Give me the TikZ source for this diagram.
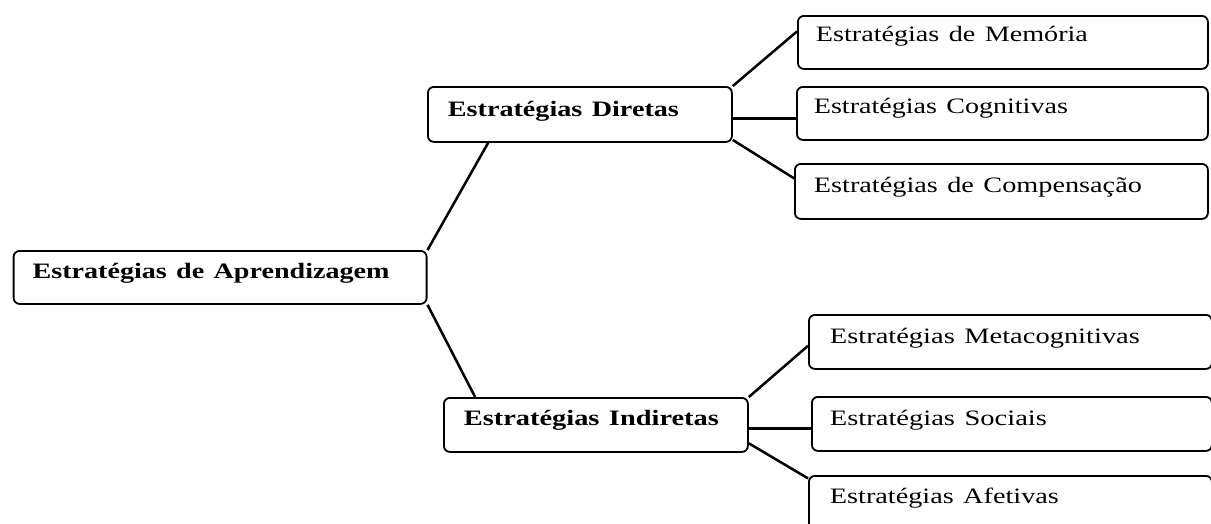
\documentclass[tikz,border=0pt]{standalone}
\usepackage{fontspec}
\setmainfont{Liberation Serif}
\usepackage{graphicx}
\usetikzlibrary{calc}
\newcommand\fitw[2]{\resizebox{#1}{\height}{#2}}
\begin{document}
\begin{tikzpicture}[x=1pt,y=-1pt,
  stratbox/.style={draw, line width=1.8pt, rounded corners=6pt, anchor=north west,
    inner ysep=0pt, align=left, font=\fontsize{22}{26}\selectfont},
  boldbox/.style={stratbox, font=\fontsize{22}{26}\selectfont\bfseries},
  link/.style={line width=2.5pt}]
\clip (0,0) rectangle (1211,523);
\fill[white] (0,0) rectangle (1211,523);
% level 0
\node[boldbox, inner xsep=19pt, text width=375pt, text height=28pt, text depth=25pt] (root) at (12.7,250) {\fitw{357pt}{Estratégias de Aprendizagem}};
% level 1
\node[boldbox, inner xsep=20pt, text width=264pt, text height=30pt, text depth=25pt] (dir) at (427,86) {\fitw{231pt}{Estratégias Diretas}};
\node[boldbox, inner xsep=20pt, text width=264pt, text height=28pt, text depth=26pt] (ind) at (443,397) {\fitw{255pt}{Estratégias Indiretas}};
% level 2
\node[stratbox, inner xsep=18pt, text width=374pt, text height=26pt, text depth=27pt] (mem) at (797,15) {\fitw{272pt}{Estratégias de Memória}};
\node[stratbox, inner xsep=17pt, text width=377pt, text height=27pt, text depth=26pt] (cog) at (796,86) {\fitw{254pt}{Estratégias Cognitivas}};
\node[stratbox, inner xsep=19pt, text width=375pt, text height=29pt, text depth=26pt] (comp) at (794,163) {\fitw{328pt}{Estratégias de Compensação}};
\node[stratbox, inner xsep=21pt, text width=361pt, text height=29pt, text depth=25pt] (meta) at (808,314) {\fitw{310pt}{Estratégias Metacognitivas}};
\node[stratbox, inner xsep=18pt, text width=364pt, text height=29pt, text depth=25pt] (soc) at (811,396) {\fitw{217pt}{Estratégias Sociais}};
\node[stratbox, inner xsep=21pt, text width=361pt, text height=28pt, text depth=37pt] (afe) at (808,475) {\fitw{229pt}{Estratégias Afetivas}};
% connectors
\draw[link] (root.north east) -- ($(dir.south west)!0.2!(dir.south east)$);
\draw[link] (root.south east) -- ($(ind.north west)!0.105!(ind.north east)$);
\draw[link] (dir.north east) -- ($(mem.north west)!0.3!(mem.south west)$);
\coordinate (d2) at ($(dir.north east)!0.57!(dir.south east)$);
\draw[link] (d2) -- (d2 -| cog.west);
\draw[link] ($(dir.north east)!0.95!(dir.south east)$) -- ($(comp.north west)!0.27!(comp.south west)$);
\draw[link] (ind.north east) -- ($(meta.north west)!0.57!(meta.south west)$);
\coordinate (i2) at ($(ind.north east)!0.56!(ind.south east)$);
\draw[link] (i2) -- (i2 -| soc.west);
\draw[link] ($(ind.north east)!0.83!(ind.south east)$) -- ($(afe.north west)!0.05!(afe.south west)$);
\end{tikzpicture}
\end{document}
